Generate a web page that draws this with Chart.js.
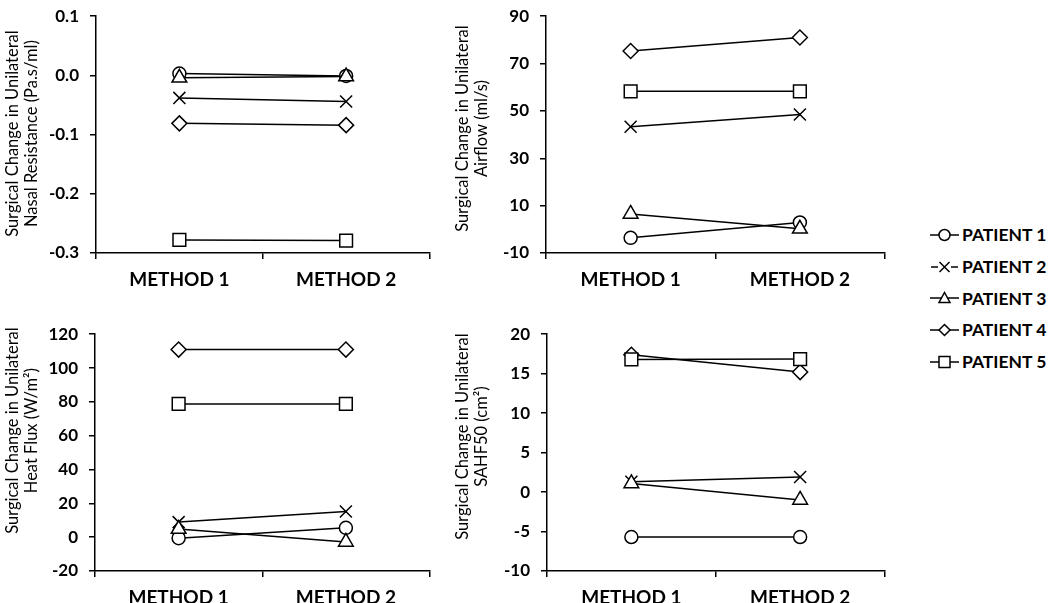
<!DOCTYPE html>
<html>
<head>
<meta charset="utf-8">
<script src="https://cdn.jsdelivr.net/npm/chart.js@4.4.1/dist/chart.umd.min.js"></script>
<style>
    body { margin: 0; background: #fff; width: 1050px; height: 603px; overflow: hidden; position: relative; }
    canvas.painel { position: absolute; }
    #legenda { position: absolute; left: 930px; top: 219px; }
    .linha-leg { height: 31.7px; display: flex; align-items: center; font: bold 17.5px Lato, sans-serif; color: #000; }
    .linha-leg svg { margin-right: 3px; }
</style>
</head>
<body>
<canvas id="g-resistencia" class="painel" width="440" height="303" style="left:0;top:-5px"></canvas>
<canvas id="g-fluxo"       class="painel" width="445" height="303" style="left:450px;top:-5px"></canvas>
<canvas id="g-calor"       class="painel" width="440" height="290" style="left:0;top:313px"></canvas>
<canvas id="g-sahf"        class="painel" width="445" height="290" style="left:450px;top:313px"></canvas>
<div id="legenda"></div>

<script>
const categories = ['METHOD 1', 'METHOD 2'];
const patients   = ['PATIENT 1', 'PATIENT 2', 'PATIENT 3', 'PATIENT 4', 'PATIENT 5'];

// valores por paciente (P1..P5)
const resistenciaM1 = [0.003, -0.038, -0.004, -0.081, -0.278];
const resistenciaM2 = [-0.001, -0.044, -0.002, -0.084, -0.279];
const fluxoM1       = [-3.6, 43.3, 6.5, 75.3, 58.3];
const fluxoM2       = [2.9, 48.5, 0.2, 81.0, 58.3];
const calorM1       = [-0.6, 8.9, 4.8, 110.9, 78.8];
const calorM2       = [5.5, 15.2, -2.8, 110.9, 78.8];
const sahfM1        = [-5.7, 1.3, 1.1, 17.4, 16.8];
const sahfM2        = [-5.7, 1.9, -1.0, 15.2, 16.85];

const marcadores = ['circle', 'crossRot', 'triangle', 'rectRot', 'rect'];
const raios      = [6.5, 8.5, 8.5, 7.5, 9];

const FONTE = 'Lato, sans-serif';

// titulo do eixo Y desenhado a mao, para poder deslocar como no Excel
const pluginTituloY = {
    id: 'tituloY',
    afterDraw(chart, args, opts) {
        const { ctx, chartArea } = chart;
        const lh = 19;
        ctx.save();
        ctx.translate(0, (chartArea.top + chartArea.bottom) / 2 + opts.desloc);
        ctx.rotate(-Math.PI / 2);
        ctx.fillStyle = '#000';
        ctx.font = `16.5px ${FONTE}`;
        ctx.textAlign = 'center';
        ctx.textBaseline = 'middle';
        opts.linhas.forEach((t, i) => ctx.fillText(t, 0, 3 + lh / 2 + i * lh));
        ctx.restore();
    }
};

function montarDatasets(m1, m2) {
    return patients.map((p, i) => ({
        label: p,
        data: [m1[i], m2[i]],
        order: patients.length - 1 - i,
        borderColor: '#000',
        borderWidth: 1.5,
        pointStyle: marcadores[i],
        pointRadius: raios[i],
        pointBackgroundColor: '#fff',
        pointBorderColor: '#000',
        pointBorderWidth: 1.5,
        tension: 0,
    }));
}

function criarPainel(id, titulo, m1, m2, eixo) {
    const canvas = document.getElementById(id);
    return new Chart(canvas, {
        type: 'line',
        data: { labels: categories, datasets: montarDatasets(m1, m2) },
        plugins: [pluginTituloY],
        options: {
            responsive: false,
            animation: false,
            layout: { padding: { top: 12, right: 10, left: 0, bottom: 0 } },
            plugins: {
                legend: { display: false },
                tooltip: { enabled: false },
                tituloY: { linhas: titulo, desloc: eixo.desloc }
            },
            scales: {
                x: {
                    offset: true,
                    grid: { offset: true, drawOnChartArea: false, color: '#000', lineWidth: 1.5, tickLength: 6 },
                    border: { color: '#000', width: 1.5 },
                    ticks: { color: '#000', padding: 9, maxRotation: 0, font: { family: FONTE, size: 19, weight: 'bold' } },
                    afterFit: s => { s.height = eixo.altX; }
                },
                y: {
                    min: eixo.min, max: eixo.max,
                    grid: { drawOnChartArea: false, color: '#000', lineWidth: 1.5, tickLength: 6 },
                    border: { color: '#000', width: 1.5 },
                    ticks: {
                        stepSize: eixo.passo, color: '#000', padding: 11,
                        font: { family: FONTE, size: 17, weight: 'bold' },
                        callback: v => eixo.casas ? Number(v).toFixed(eixo.casas) : String(Math.round(v))
                    },
                    afterFit: s => { s.width = eixo.largY; }
                }
            }
        }
    });
}

function montarLegenda() {
    const linha = '<line x1="0" y1="10" x2="29" y2="10" stroke="#000" stroke-width="1.5"/>';
    const icones = [
        linha + '<circle cx="14.5" cy="10" r="5.5" fill="#fff" stroke="#000" stroke-width="1.5"/>',
        '<line x1="1" y1="10" x2="8" y2="10" stroke="#000" stroke-width="1.5"/><line x1="21" y1="10" x2="28" y2="10" stroke="#000" stroke-width="1.5"/>' +
        '<path d="M9.5 5L19.5 15M19.5 5L9.5 15" stroke="#000" stroke-width="1.5"/>',
        linha + '<polygon points="14.5,4.5 20,14.5 9,14.5" fill="#fff" stroke="#000" stroke-width="1.5"/>',
        linha + '<polygon points="14.5,4.5 20,10 14.5,15.5 9,10" fill="#fff" stroke="#000" stroke-width="1.5"/>',
        linha + '<rect x="9" y="4.5" width="11" height="11" fill="#fff" stroke="#000" stroke-width="1.5"/>',
    ];
    document.getElementById('legenda').innerHTML = patients.map((p, i) => `
        <div class="linha-leg"><svg width="29" height="20">${icones[i]}</svg>${p}</div>
    `).join('');
}

criarPainel('g-resistencia', ['Surgical Change in Unilateral', 'Nasal Resistance (Pa.s/ml)'],
    resistenciaM1, resistenciaM2, { min: -0.3, max: 0.1, passo: 0.1, casas: 1, largY: 96, altX: 45, desloc: -1 });
criarPainel('g-fluxo', ['Surgical Change in Unilateral', 'Airflow (ml/s)'],
    fluxoM1, fluxoM2, { min: -10, max: 90, passo: 20, casas: 0, largY: 96, altX: 45, desloc: -6 });
criarPainel('g-calor', ['Surgical Change in Unilateral', 'Heat Flux (W/m²)'],
    calorM1, calorM2, { min: -20, max: 120, passo: 20, casas: 0, largY: 95, altX: 32, desloc: -22 });
criarPainel('g-sahf', ['Surgical Change in Unilateral', 'SAHF50 (cm²)'],
    sahfM1, sahfM2, { min: -10, max: 20, passo: 5, casas: 0, largY: 97, altX: 32, desloc: -16 });
montarLegenda();
</script>
</body>
</html>
